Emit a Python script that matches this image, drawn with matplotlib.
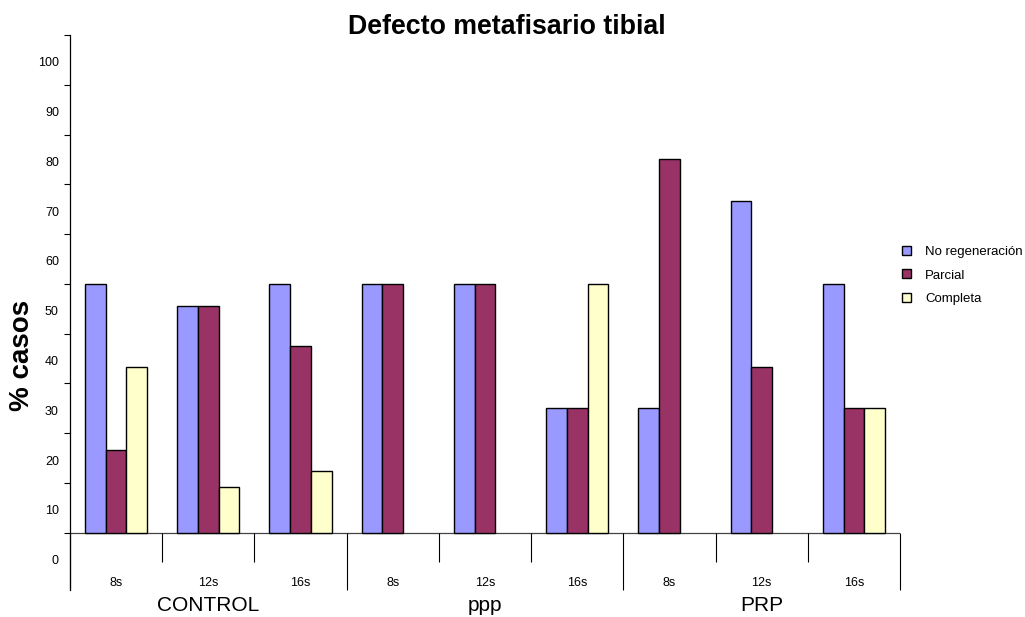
import numpy as np
import matplotlib
matplotlib.use("Agg")
import matplotlib.pyplot as plt
from matplotlib.patches import Patch

# ── Data ───────────────────────────────────────────────────────────────────────
groups    = ["CONTROL", "ppp", "PRP"]
periods   = ["8s", "12s", "16s"]
series    = ["No regeneración", "Parcial", "Completa"]
no_regen  = [50, 45.5, 50, 50, 50, 25, 25, 66.7, 50]
parcial   = [16.7, 45.5, 37.5, 50, 50, 25, 75, 33.3, 25]
completa  = [33.3, 9.1, 12.5, 0, 0, 50, 0, 0, 25]
y_labels  = [0, 10, 20, 30, 40, 50, 60, 70, 80, 90, 100]

colors = ["#9999FF", "#993366", "#FFFFCC"]

plt.rcParams["font.family"] = ["Liberation Sans", "DejaVu Sans"]

fig = plt.figure(figsize=(10.25, 6.17), dpi=100)
ax = fig.add_axes([70 / 1025, 27 / 617, 830 / 1025, 555 / 617])

x = np.arange(len(no_regen))
w = 0.225
for i, (vals, c, name) in enumerate(zip([no_regen, parcial, completa], colors, series)):
    lw = [0 if v == 0 else 1.0 for v in vals]   # empty bars: no outline at baseline
    ax.bar(x + (i - 1) * w, vals, width=w, color=c, edgecolor="black",
           linewidth=lw, label=name, zorder=3)

ax.set_xlim(-0.5, len(x) - 0.5)
ax.set_ylim(-11.5, 100)

# spines / baseline
for s in ["top", "right", "bottom"]:
    ax.spines[s].set_visible(False)
ax.spines["left"].set_linewidth(0.9)
ax.axhline(0, color="#444444", linewidth=0.9, zorder=2)

# category separators (short within group, long between groups)
edges = np.arange(len(x) + 1) - 0.5
for k, e in enumerate(edges):
    low = -11.5 if k % 3 == 0 else -5.8
    ax.vlines(e, low, 0, color="black", linewidth=0.8, clip_on=False)

# y ticks: marks at multiples of 10, labels shifted as in the reference
ax.set_yticks([v - 5.4 for v in y_labels])
ax.set_yticklabels([str(v) for v in y_labels], fontsize=9)
ax.tick_params(axis="y", which="major", length=0, pad=8)
ax.set_yticks(y_labels, minor=True)
ax.tick_params(axis="y", which="minor", length=4, width=0.8, direction="out")
ax.set_xticks([])

# sub-category labels
for i in x:
    ax.text(i, -10, periods[i % 3], ha="center", va="center", fontsize=9)

# group labels
for g, name in enumerate(groups):
    ax.text(3 * g + 1, -14.7, name, ha="center", va="center", fontsize=15,
            clip_on=False)

fig.text(22 / 1025, 1 - 355 / 617, "% casos", rotation=90, ha="center",
         va="center", fontsize=20, fontweight="bold")
fig.text(507 / 1025, 1 - 34 / 617, "Defecto metafisario tibial", ha="center",
         va="baseline", fontsize=19.3, fontweight="bold")

handles = [Patch(facecolor=c, edgecolor="black", linewidth=1.0) for c in colors]
fig.legend(handles, series, loc="upper left", bbox_to_anchor=(893 / 1025, 1 - 237 / 617),
           frameon=False, fontsize=9.5, handlelength=0.65, handleheight=0.65,
           handletextpad=1.1, labelspacing=0.85, borderpad=0.2)

fig.savefig("out.png", dpi=100)
